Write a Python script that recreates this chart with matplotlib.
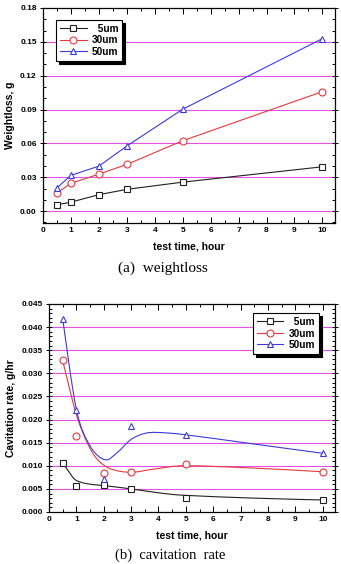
import numpy as np
import matplotlib
matplotlib.use("Agg")
import matplotlib.pyplot as plt
from matplotlib.path import Path
from matplotlib.patches import PathPatch
from matplotlib.ticker import MultipleLocator

plt.rcParams['font.family'] = ['Liberation Sans', 'DejaVu Sans']

hours = [0.5, 1, 2, 3, 5, 10]
labels = ["  5um", "30um", "50um"]

# (a) weightloss, g
loss_5 = [0.0056, 0.0080, 0.0146, 0.0193, 0.0257, 0.0393]
loss_30 = [0.0162, 0.0246, 0.0328, 0.0414, 0.0624, 0.1059]
loss_50 = [0.0207, 0.0317, 0.0399, 0.0577, 0.0903, 0.1529]

# (b) cavitation rate, g/hr
rate_5 = [0.0107, 0.0057, 0.0059, 0.0050, 0.0031, 0.0026]
rate_30 = [0.0328, 0.0164, 0.0084, 0.0086, 0.0104, 0.0087]
rate_50 = [0.0418, 0.0220, 0.0071, 0.0185, 0.0167, 0.0127]

# fitted curves in (b)
fit5_x = [0.5, 0.74, 0.98, 1.41, 2.03, 3.0, 4.07, 5.0, 7.5, 10]
fit5_y = [0.0107, 0.0086, 0.0069, 0.0061, 0.0057, 0.0050, 0.0041, 0.0036, 0.0030, 0.0026]
fit30_x = [0.5, 0.8, 1.04, 1.41, 1.78, 2.27, 3.0, 3.86, 5.0, 7.5, 10]
fit30_y = [0.0328, 0.0255, 0.0203, 0.0148, 0.0113, 0.0093, 0.0086, 0.0093, 0.0100, 0.0095, 0.0087]
fit50_x = [0.5, 1.0, 1.5, 2.05, 2.5, 3.0, 3.5, 4.0, 5.0, 7.5, 10]
fit50_y = [0.0418, 0.0222, 0.0143, 0.0113, 0.0129, 0.0157, 0.0170, 0.0172, 0.0167, 0.0147, 0.0127]

colors = ["#202020", "#e8383c", "#3a3adc"]
markers = ["s", "o", "^"]
grid_c = "#e650e6"
tick_font = dict(fontsize=6, fontweight='bold')
label_font = dict(fontsize=7.5, fontweight='bold')


def smooth_path(xs, ys):
    p = np.column_stack([xs, ys])
    verts = [p[0]]
    codes = [Path.MOVETO]
    for i in range(len(p) - 1):
        p0 = p[i - 1] if i > 0 else p[i]
        p3 = p[i + 2] if i + 2 < len(p) else p[i + 1]
        verts += [p[i] + (p[i + 1] - p0) / 6, p[i + 1] - (p3 - p[i]) / 6, p[i + 1]]
        codes += [Path.CURVE4] * 3
    return Path(verts, codes)


def style_axes(ax, ymaj, ymin):
    ax.xaxis.set_major_locator(MultipleLocator(1))
    ax.xaxis.set_minor_locator(MultipleLocator(0.5))
    ax.yaxis.set_major_locator(MultipleLocator(ymaj))
    ax.yaxis.set_minor_locator(MultipleLocator(ymin))
    ax.tick_params(which='both', direction='in', top=True, right=True, width=0.7)
    ax.tick_params(which='major', length=4)
    ax.tick_params(which='minor', length=2)
    ax.tick_params(axis='y', which='major', left=True, direction='inout', length=5)
    ax.tick_params(axis='x', pad=3)
    ax.tick_params(axis='y', pad=2)
    for s in ax.spines.values():
        s.set_linewidth(0.9)
    ax.set_xlabel("test time, hour", **label_font, labelpad=5)


def add_legend(ax, loc, anchor):
    leg = ax.legend(loc=loc, bbox_to_anchor=anchor, fancybox=False,
                    edgecolor='black', framealpha=1, shadow={'color': 'black', 'alpha': 1},
                    prop=dict(weight='bold', size=7.3), handlelength=2.6, borderpad=0.4,
                    labelspacing=0.15, handletextpad=0.5, borderaxespad=0)
    leg.get_frame().set_linewidth(0.8)
    return leg


fig = plt.figure(figsize=(3.41, 5.64), dpi=100)

# ---- (a)
ax1 = fig.add_axes([43 / 341, 1 - 223 / 564, 292 / 341, 215 / 564])
ax1.set_xlim(0, 10.45)
ax1.set_ylim(-0.0105, 0.18)
for g in np.arange(0, 0.18, 0.03):
    ax1.axhline(g, color=grid_c, lw=0.8, zorder=1)
for ys, c, m, lab in zip([loss_5, loss_30, loss_50], colors, markers, labels):
    ax1.plot(hours, ys, color=c, lw=0.8, marker=m, markersize=5,
             markerfacecolor='white', markeredgecolor=c, markeredgewidth=0.8,
             label=lab, zorder=3)
style_axes(ax1, 0.03, 0.01)
ax1.set_yticks(np.arange(0, 0.181, 0.03))
ax1.set_yticklabels(["%.2f" % v for v in np.arange(0, 0.181, 0.03)], **tick_font)
ax1.set_xticks(range(11))
ax1.set_xticklabels([str(v) for v in range(11)], **tick_font)
ax1.set_ylabel("Weightloss, g", **label_font, labelpad=4)
add_legend(ax1, 'upper left', (0.045, 0.945))
fig.text(0.477, 1 - 268 / 564, "(a)  weightloss", family='Liberation Serif',
         fontsize=11, ha='center', va='center')

# ---- (b)
ax2 = fig.add_axes([49 / 341, 1 - 512 / 564, 286 / 341, 208 / 564])
ax2.set_xlim(0, 10.45)
ax2.set_ylim(0, 0.045)
for g in np.arange(0.005, 0.0449, 0.005):
    ax2.axhline(g, color=grid_c, lw=0.8, zorder=1)
for fx, fy, c in zip([fit5_x, fit30_x, fit50_x], [fit5_y, fit30_y, fit50_y], colors):
    ax2.add_patch(PathPatch(smooth_path(fx, fy), facecolor='none', edgecolor=c, lw=0.8, zorder=2))
for ys, c, m, lab in zip([rate_5, rate_30, rate_50], colors, markers, labels):
    ax2.plot(hours, ys, linestyle='none', marker=m, markersize=5,
             markerfacecolor='white', markeredgecolor=c, markeredgewidth=0.8, zorder=3)
    ax2.plot([], [], color=c, lw=0.8, marker=m, markersize=5, markerfacecolor='white',
             markeredgecolor=c, markeredgewidth=0.8, label=lab)
style_axes(ax2, 0.005, 0.001)
ax2.set_yticks(np.arange(0, 0.0451, 0.005))
ax2.set_yticklabels(["%.3f" % v for v in np.arange(0, 0.0451, 0.005)], **tick_font)
ax2.set_xticks(range(11))
ax2.set_xticklabels([str(v) for v in range(11)], **tick_font)
ax2.set_ylabel("Cavitation rate, g/hr", **label_font, labelpad=4)
add_legend(ax2, 'upper right', (0.944, 0.957))
fig.text(0.50, 1 - 555 / 564, "(b)  cavitation  rate", family='Liberation Serif',
         fontsize=10.5, ha='center', va='center')

fig.savefig("out.png", dpi=100)
